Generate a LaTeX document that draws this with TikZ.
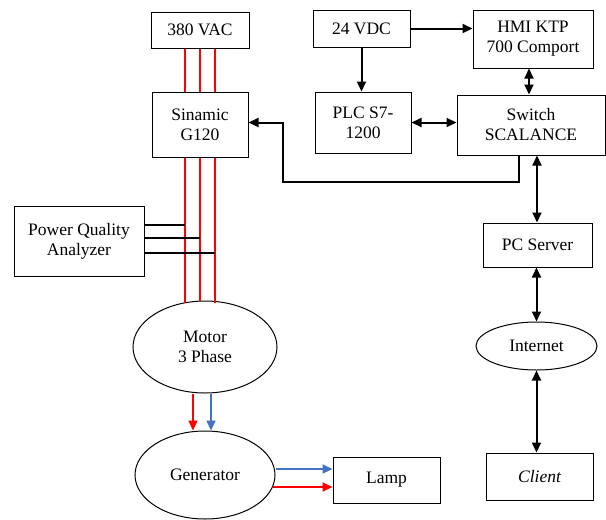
\documentclass[tikz,border=0pt]{standalone}
\usepackage{fontspec}
\setmainfont{Liberation Serif}
\newfontfamily\tnr{Liberation Serif}
\usetikzlibrary{shapes.geometric,arrows.meta,calc}
\definecolor{pwrred}{RGB}{255,0,0}
\definecolor{pwrblue}{RGB}{68,114,196}
\begin{document}
\begin{tikzpicture}[x=1pt,y=-1pt,
  every node/.style={font=\tnr\fontsize{17.5}{20}\selectfont, align=center, inner sep=0pt},
  box/.style={draw, line width=1pt, rectangle},
  oval/.style={draw, line width=1pt, ellipse},
  conn/.style={line width=2pt, black},
  uni/.style={conn, -{Triangle[length=10pt,width=9pt]}},
  bi/.style={conn, {Triangle[length=10pt,width=9pt]}-{Triangle[length=10pt,width=9pt]}},
  redline/.style={line width=2.2pt, pwrred},
  tapline/.style={line width=1.8pt, black},
  redarr/.style={line width=2.2pt, pwrred, -{Triangle[length=10pt,width=9pt]}},
  bluearr/.style={line width=2.2pt, pwrblue, -{Triangle[length=10pt,width=9pt]}}
]
\useasboundingbox (0,0) rectangle (606,520);
% nodes
\node[box, minimum width=98pt, minimum height=36pt] (vac) at (200,30) {380 VAC};
\node[box, minimum width=96pt, minimum height=65pt] (sin) at (200,124.5) {Sinamic\\G120};
\node[box, minimum width=97pt, minimum height=37pt] (vdc) at (361.5,28.5) {24 VDC};
\node[box, minimum width=120pt, minimum height=58pt] (hmi) at (533,39) {HMI KTP\\700 Comport};
\node[box, minimum width=96pt, minimum height=61pt] (plc) at (363,122.5) {PLC S7-\\1200};
\node[box, minimum width=148pt, minimum height=60pt] (sw) at (531,125) {Switch\\SCALANCE};
\node[box, minimum width=130pt, minimum height=70pt] (pqa) at (79,241) {Power Quality\\Analyzer};
\node[oval, minimum width=144pt, minimum height=92pt] (motor) at (205,347) {Motor\\3 Phase};
\node[oval, minimum width=140pt, minimum height=88pt] (gen) at (205,475) {Generator};
\node[box, minimum width=107pt, minimum height=46pt] (lamp) at (386.5,480) {Lamp};
\node[box, minimum width=109pt, minimum height=44pt] (pc) at (537.5,245) {PC Server};
\node[oval, minimum width=121pt, minimum height=48pt] (inet) at (536.5,346) {Internet};
\node[box, minimum width=107pt, minimum height=47pt] (cli) at (539.5,476.5) {\itshape Client};
% red supply lines
\coordinate (r1) at ($(sin.south)+(-15,0)$);
\coordinate (r2) at (sin.south);
\coordinate (r3) at ($(sin.south)+(15,0)$);
\foreach \d in {-15,0,15}{
  \draw[redline] ($(vac.south)+(\d,0)$) -- ($(sin.north)+(\d,0)$);
}
\draw[redline] (r1) -- ($(r1 |- motor.north)+(0,2)$);
\draw[redline] (r2) -- (r2 |- motor.north);
\draw[redline] (r3) -- ($(r3 |- motor.north)+(0,2)$);
% power quality taps
\coordinate (p1) at ($(pqa.east)+(0,-16)$);
\coordinate (p2) at ($(pqa.east)+(0,-3)$);
\coordinate (p3) at ($(pqa.east)+(0,12)$);
\draw[tapline] (p1) -- (p1 -| r1);
\draw[tapline] (p2) -- (p2 -| r2);
\draw[tapline] (p3) -- (p3 -| r3);
% control connections
\draw[uni] (vdc.east) -- (vdc.east -| hmi.west);
\draw[uni] (vdc.south) -- (vdc.south |- plc.north);
\draw[bi] ($(hmi.south)+(-4,0)$) -- ($(hmi.south |- sw.north)+(-4,0)$);
\draw[bi] (plc.east) -- (plc.east -| sw.west);
\coordinate (swb) at ($(sw.south)+(-12,0)$);
\coordinate (bend) at (283,182);
\draw[uni] (swb) |- (bend) |- ($(sin.east)+(0,-2)$);
\draw[bi] ($(sw.south)+(6,0)$) -- ($(pc.north -| sw.south)+(6,0)$);
\draw[bi] ($(pc.south)+(-1,0)$) -- (inet.north);
\draw[bi] (inet.south) -- (inet.south |- cli.north);
% motor to generator
\draw[redarr] ($(motor.south)+(-12,0)$) -- ($(motor.south |- gen.north)+(-12,0)$);
\draw[bluearr] ($(motor.south)+(6,0)$) -- ($(motor.south |- gen.north)+(6,0)$);
% generator to lamp
\coordinate (g1) at ($(gen.east)+(0,-6)$);
\coordinate (g2) at ($(gen.east)+(-3,12)$);
\draw[bluearr] (g1) -- (g1 -| lamp.west);
\draw[redarr] (g2) -- (g2 -| lamp.west);
\end{tikzpicture}
\end{document}
